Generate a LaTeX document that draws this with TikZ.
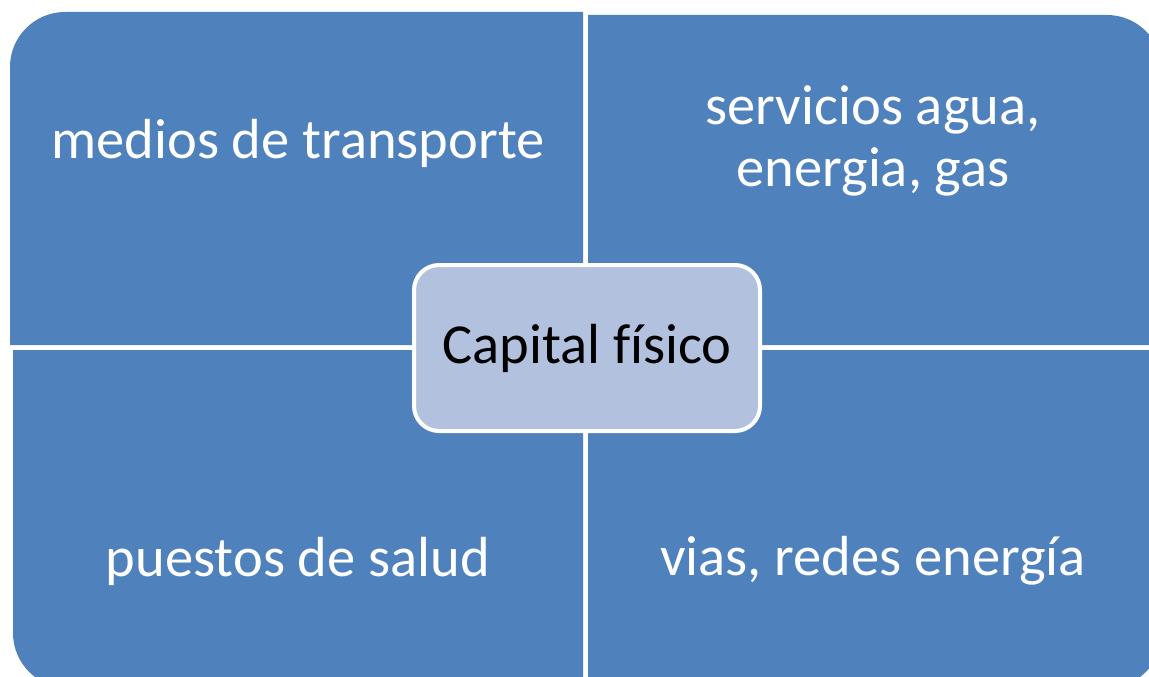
\documentclass[tikz,border=0pt]{standalone}
\usepackage{fontspec}
\setmainfont{Carlito}[Ligatures=NoCommon]
\definecolor{quadblue}{HTML}{4F81BD}
\definecolor{hubblue}{HTML}{B1C1DE}
\tikzset{
	quad/.style={fill=quadblue},
	quadtext/.style={text=white, font=\fontsize{56.5}{62}\selectfont, align=center},
}

\begin{document}
\begin{tikzpicture}[x=1pt, y=-1pt]
	\useasboundingbox (0,0) rectangle (1149,677);
	\clip (0,0) rectangle (1149,677);
	% four quadrants, one rounded outer corner each
	\fill[quad] (10,345) [rounded corners=55] -- (10,12) [sharp corners] -- (583,12) -- (583,345) -- cycle;
	\fill[quad] (588,15) [rounded corners=55] -- (1162,15) [sharp corners] -- (1162,345) -- (588,345) -- cycle;
	\fill[quad] (583,350) -- (13,350) [rounded corners=55] -- (13,688) [sharp corners] -- (583,688) -- cycle;
	\fill[quad] (588,350) -- (1162,350) [rounded corners=55] -- (1162,688) [sharp corners] -- (588,688) -- cycle;
	% labels
	\node[quadtext] (transporte) at (298,143) {medios de transporte};
	\node[quadtext] (servicios) at (873,141) {servicios agua,\\energia, gas};
	\node[quadtext] (salud) at (298,561) {puestos de salud};
	\node[quadtext] (vias) at (873,561) {vias, redes energía};
	% centre
	\node[draw=white, line width=4pt, fill=hubblue, rounded corners=25,
		minimum width=346, minimum height=166, font=\fontsize{56.5}{62}\selectfont]
		(capital) at (587,348) {Capital físico};
\end{tikzpicture}
\end{document}
